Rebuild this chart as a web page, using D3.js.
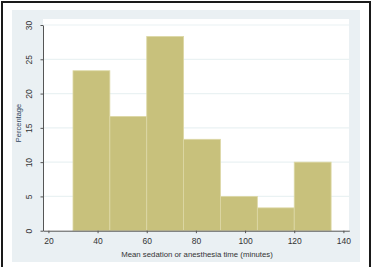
<!DOCTYPE html>
<html>
<head>
<meta charset="utf-8">
<script src="https://cdn.jsdelivr.net/npm/d3@7"></script>
<style>
  body { margin: 0; background: #fff; }
  svg { display: block; font-family: "Liberation Sans", Arial, sans-serif; }
</style>
</head>
<body>
<div id="chart"></div>
<script>
// histogram bins (minutes) and percentages
var binStart = [30, 45, 60, 75, 90, 105, 120];
var binWidth = 15;
var percent = [23.33, 16.67, 28.33, 13.33, 5, 3.33, 10];
var xTicks = [20, 40, 60, 80, 100, 120, 140];
var yTicks = [0, 5, 10, 15, 20, 25, 30];

var width = 374, height = 267;

var svg = d3.select("#chart").append("svg")
    .attr("width", width)
    .attr("height", height);

// outer frame
svg.append("rect")
    .attr("x", 2).attr("y", 2)
    .attr("width", 368).attr("height", 270)
    .attr("fill", "#fff")
    .attr("stroke", "#1a1a1a")
    .attr("stroke-width", 2);

// graph region
svg.append("rect")
    .attr("x", 12).attr("y", 10)
    .attr("width", 348).attr("height", 252)
    .attr("fill", "#eaf0f3");

// plot region
svg.append("rect")
    .attr("x", 43).attr("y", 19)
    .attr("width", 306).attr("height", 212)
    .attr("fill", "#fff");

var x = d3.scaleLinear().domain([17.8, 142.4]).range([43, 349.3]);
var y = d3.scaleLinear().domain([0, 30]).range([230.7, 25]);

// gridlines
svg.append("g").selectAll("line")
    .data(yTicks.slice(1))
    .enter().append("line")
    .attr("x1", 43).attr("x2", 349.3)
    .attr("y1", function(d) { return y(d); })
    .attr("y2", function(d) { return y(d); })
    .attr("stroke", "#eaf2f3")
    .attr("stroke-width", 1.2);

// bars
svg.append("g").selectAll("rect")
    .data(percent)
    .enter().append("rect")
    .attr("x", function(d, i) { return x(binStart[i]); })
    .attr("width", function(d, i) { return x(binStart[i] + binWidth) - x(binStart[i]); })
    .attr("y", function(d) { return y(d); })
    .attr("height", function(d) { return y(0) - y(d); })
    .attr("fill", "#c8c17c")
    .attr("stroke", "#ddd8a6")
    .attr("stroke-width", 0.8);

// x axis
var xaxis = svg.append("g")
    .attr("transform", "translate(0," + y(0) + ")")
    .call(d3.axisBottom(x)
        .tickValues(xTicks)
        .tickSize(2.5)
        .tickSizeOuter(0)
        .tickFormat(d3.format("d")));
xaxis.select(".domain").attr("stroke", "#555");
xaxis.selectAll(".tick line").attr("stroke", "#555");
xaxis.selectAll(".tick text")
    .attr("fill", "#333")
    .attr("font-size", "8.5px")
    .attr("dy", "0.95em");

// y axis
var yaxis = svg.append("g")
    .attr("transform", "translate(43,0)")
    .call(d3.axisLeft(y)
        .tickValues(yTicks)
        .tickSize(2.5)
        .tickSizeOuter(0));
yaxis.select(".domain").attr("stroke", "#555");
yaxis.selectAll(".tick line").attr("stroke", "#555");
yaxis.selectAll(".tick text")
    .attr("fill", "#333")
    .attr("font-size", "8.5px")
    .attr("x", 0).attr("dy", 0)
    .attr("text-anchor", "middle")
    .attr("transform", "translate(-11,0) rotate(-90)");

// axis titles
svg.append("text")
    .attr("x", 197).attr("y", 257)
    .attr("text-anchor", "middle")
    .attr("font-size", "7.8px")
    .attr("fill", "#333")
    .text("Mean sedation or anesthesia time (minutes)");

svg.append("text")
    .attr("transform", "translate(21,123) rotate(-90)")
    .attr("text-anchor", "middle")
    .attr("font-size", "7.5px")
    .attr("fill", "#2f4560")
    .text("Percentage");
</script>
</body>
</html>
